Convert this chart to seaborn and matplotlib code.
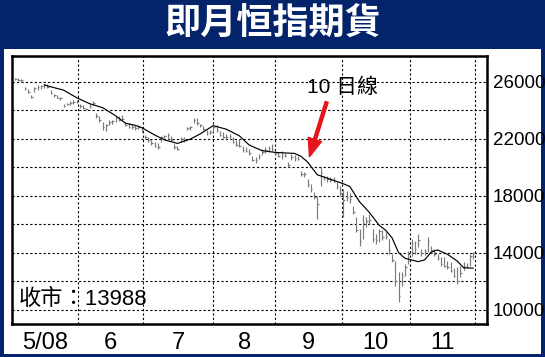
import numpy as np
import pandas as pd
import matplotlib
matplotlib.use('Agg')
import matplotlib.pyplot as plt
import seaborn as sns
from matplotlib.patches import Rectangle

# ---------------- data ----------------
lows = [26100, 26050, 26000, 25400, 25200, 24850, 25300, 25450, 25500, 25600,
        25550, 25150, 24950, 24850, 24750, 24250, 24350, 24400, 24450, 24500,
        24200, 24100, 24000, 24200, 24400, 23450, 23200, 22650, 22550, 23000,
        23050, 23200, 23250, 23300, 22900, 22750, 22700, 22650, 22700, 22500,
        22000, 21800, 21600, 21400, 21270, 21800, 21900, 21950, 21850, 21300,
        21200, 21750, 21800, 22600, 22650, 23100, 23000, 22800, 22600, 22300,
        22350, 22450, 22450, 22200, 22050, 21950, 22000, 21700, 21500, 21400,
        21100, 21060, 20900, 20450, 20340, 20600, 20900, 21000, 21100, 21150,
        20900, 20700, 20570, 20700, 20010, 20500, 20450, 20500, 19400, 19350,
        18590, 18300, 17770, 16370, 18700, 19100, 19000, 18940, 18950, 18500,
        18000, 16510, 17660, 17500, 16720, 15440, 14500, 14970, 15800, 16020,
        14760, 14620, 14740, 14900, 14970, 13920, 13340, 11700, 10560, 11700,
        12400, 13220, 13800, 13900, 14390, 13800, 13850, 14040, 14000, 13800,
        13500, 13100, 13000, 12870, 12640, 12300, 11820, 12290, 12760, 12900,
        13100, 13570]
highs = [26300, 26250, 26200, 25650, 25500, 25100, 25650, 25750, 25800, 25850,
         25850, 25400, 25150, 25050, 24950, 24450, 24550, 24650, 24700, 24750,
         24450, 24350, 24200, 24450, 24650, 23800, 23600, 23200, 23050, 23300,
         23350, 23580, 23600, 23700, 23200, 23100, 23050, 23000, 23000, 22800,
         22250, 22150, 21950, 21800, 21700, 22200, 22300, 22440, 22200, 21650,
         21500, 22100, 22100, 22850, 22900, 23480, 23450, 23050, 22900, 22600,
         22650, 22900, 22950, 22560, 22450, 22350, 22320, 22100, 21900, 21970,
         21500, 21400, 21270, 20800, 20700, 20920, 21300, 21400, 21500, 21620,
         21200, 21100, 21150, 21000, 20360, 20920, 20850, 20800, 19750, 19700,
         19170, 18820, 18300, 18000, 20010, 19400, 19400, 19300, 19350, 18960,
         18700, 18470, 18360, 18200, 17310, 16510, 15670, 16630, 16500, 16720,
         15670, 15320, 15670, 15600, 15440, 14970, 13920, 13450, 12660, 12660,
         13220, 14150, 14970, 14800, 15320, 14270, 14300, 15090, 14500, 14270,
         13920, 13700, 13690, 13400, 13340, 12900, 12990, 13100, 13340, 13300,
         13920, 14040]
closes = [26200, 26150, 26100, 25540, 25300, 24950, 25550, 25650, 25700, 25780,
          25650, 25250, 25050, 24900, 24850, 24300, 24420, 24550, 24600, 24620,
          24300, 24150, 24070, 24300, 24540, 23600, 23300, 22800, 23000, 23200,
          23250, 23450, 23350, 23400, 23000, 22850, 22800, 22750, 22850, 22600,
          22100, 21900, 21700, 21500, 21400, 22100, 22200, 22300, 21950, 21400,
          21300, 22000, 21900, 22750, 22800, 23350, 23100, 22950, 22700, 22400,
          22500, 22800, 22600, 22300, 22150, 22100, 22200, 21800, 21600, 21500,
          21200, 21150, 21000, 20550, 20500, 20800, 21100, 21200, 21350, 21300,
          21000, 20800, 20900, 20800, 20200, 20700, 20650, 20600, 19500, 19500,
          18800, 18500, 17900, 17400, 19600, 19300, 19200, 19100, 19000, 18700,
          18200, 17700, 17900, 17800, 16900, 15600, 14800, 16100, 16200, 16300,
          15000, 14900, 15500, 15100, 15200, 14200, 13500, 12000, 11000, 12400,
          13000, 13900, 14700, 14300, 14900, 14000, 14100, 14800, 14200, 13900,
          13600, 13200, 13100, 13000, 12700, 12400, 12000, 12600, 13100, 13000,
          13800, 13988]

# 10-day moving average
ma_days = [9, 10, 15, 19, 23, 27, 31, 34, 37, 39, 43, 46, 50, 54, 57, 61, 65,
           69, 72, 74, 76, 80, 86, 88, 90, 93, 97, 101, 103, 106, 109, 112, 114,
           116, 118, 120, 124, 126, 128, 130, 133, 136, 138, 141]
ma_values = [25800, 25720, 25420, 24890, 24470, 24190, 23620, 23100, 22950,
             22790, 22270, 21930, 21680, 21990, 22350, 22930, 22680, 22220,
             21580, 21370, 21180, 21050, 20980, 20770, 20380, 19480, 19170,
             18850, 18660, 17580, 16840, 15940, 15590, 15050, 14010, 13610,
             13380, 13500, 14040, 14200, 13900, 13430, 12950, 12920]

month_labels = ['5/08', '6', '7', '8', '9', '10', '11']
month_bounds = [-0.9, 19.5, 39.5, 61, 80, 100.5, 121.5, 141.5]
y_grid = [10000, 12000, 14000, 16000, 18000, 20000, 22000, 24000, 26000]
y_labelled = [10000, 14000, 18000, 22000, 26000]
last_close = 13988
title = '即月恒指期貨'
ma_label = '10 日線'

# ---------------- figure ----------------
sns.set_theme(style='white')
plt.rcParams['font.family'] = ['Liberation Sans', 'Noto Sans CJK TC', 'DejaVu Sans']

W, H = 545, 357
NAVY = '#03246B'
fig = plt.figure(figsize=(W / 100, H / 100), dpi=100, facecolor=NAVY)
fig.patches.append(Rectangle((3.5 / W, 1 - 354 / H), (540.5 - 3.5) / W, (354 - 48.5) / H,
                             transform=fig.transFigure, facecolor='white',
                             edgecolor='none', zorder=-5))
fig.text(0.5, 1 - 24 / H, title, color='white', fontsize=26, fontweight='black',
         family=['Noto Sans CJK TC'], ha='center', va='center')

ax = fig.add_axes([12 / W, 1 - 324 / H, 475 / W, 268 / H])
ax.set_zorder(2)
ax.set_facecolor('white')

days = np.arange(len(closes))
df = pd.DataFrame({'day': days, 'low': lows, 'high': highs, 'close': closes})

ax.vlines(df['day'], df['low'], df['high'], color='#7a7a7a', lw=0.85, zorder=3)
ax.hlines(df['close'], df['day'], df['day'] + 0.5, color='#7a7a7a', lw=0.85, zorder=3)

ma = pd.DataFrame({'day': ma_days, 'ma': ma_values})
sns.lineplot(data=ma, x='day', y='ma', ax=ax, color='black', lw=0.85, zorder=4)

ax.set_xlim(month_bounds[0], 145.2)
ax.set_ylim(9000, 27820)

# grid
mids = [(month_bounds[k] + month_bounds[k + 1]) / 2 for k in range(len(month_labels))]
ax.set_xticks(mids)
ax.set_xticklabels(month_labels, family=['Liberation Sans Narrow', 'Liberation Sans'],
                   fontsize=17, color='black')
ax.set_xticks(month_bounds[1:], minor=True)
ax.yaxis.tick_right()
ax.set_yticks(y_grid)
ax.set_yticklabels([str(v) if v in y_labelled else '' for v in y_grid],
                   family=['Liberation Sans Narrow', 'Liberation Sans'],
                   fontsize=13.5, color='black')
ax.tick_params(axis='both', which='both', length=0)
ax.tick_params(axis='x', pad=6)
ax.tick_params(axis='y', pad=4)
ax.grid(False)
ax.grid(True, which='minor', axis='x', color='black', lw=0.8, ls=(0, (2, 2)))
ax.grid(True, which='major', axis='y', color='black', lw=0.8, ls=(0, (2, 2)))
ax.set_axisbelow(True)
for s in ax.spines.values():
    s.set_visible(True)
    s.set_color('black')
    s.set_linewidth(1.8)
ax.set_xlabel('')
ax.set_ylabel('')

# annotations
ax.text(89.9, 25590, ma_label, fontsize=15, ha='left', va='center', color='black', zorder=6)
ax.annotate('', xy=(90.6, 20750), xytext=(95.9, 24600),
            arrowprops=dict(facecolor='#E8141B', edgecolor='#E8141B', width=2.2,
                            headwidth=10, headlength=13, shrink=0), zorder=6)
ax.text(1.3, 10740, f'收市：{last_close}', fontsize=16, ha='left', va='center',
        color='black', zorder=6)

fig.savefig('out.png', dpi=100, facecolor=NAVY)
